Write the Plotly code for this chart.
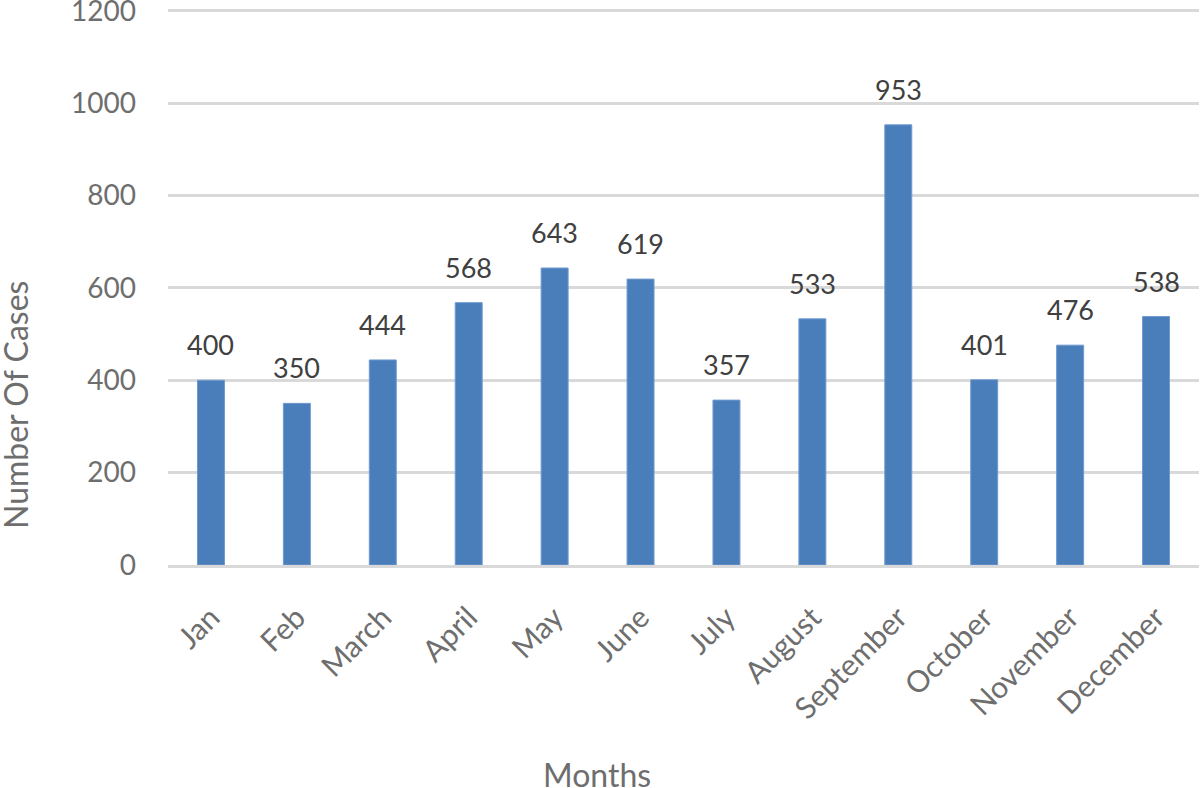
import plotly.graph_objects as go

months = ["Jan", "Feb", "March", "April", "May", "June", "July", "August",
          "September", "October", "November", "December"]
cases = [400, 350, 444, 568, 643, 619, 357, 533, 953, 401, 476, 538]
y_ticks = [0, 200, 400, 600, 800, 1000, 1200]

FONT = "Lato, 'Open Sans', sans-serif"
TXT = "#6e6e6e"

fig = go.Figure(go.Bar(
    x=months, y=cases,
    marker=dict(color="#4a7ebb", line=dict(color="#6f9ad0", width=1)),
    hoverinfo="x+y",
))

for m, v in zip(months, cases):
    fig.add_annotation(x=m, y=v, text=str(v), showarrow=False,
                       xanchor="center", yanchor="bottom", yshift=17,
                       font=dict(size=27, color="#404040"))

fig.update_layout(
    width=1200, height=788,
    margin=dict(l=168, r=1, t=8, b=223, autoexpand=False),
    paper_bgcolor="white", plot_bgcolor="white",
    bargap=0.686,
    showlegend=False,
    font=dict(family=FONT, color=TXT),
)
fig.update_yaxes(
    range=[0, 1206], tickvals=y_ticks, showgrid=True,
    gridcolor="#d9d9d9", gridwidth=3, zeroline=False,
    tickfont=dict(size=28, color=TXT), ticklabelstandoff=31,
    ticklabeloverflow="allow",
    showline=False, automargin=False,
)
fig.update_xaxes(
    tickangle=-45, tickfont=dict(size=30, color=TXT),
    showline=True, linecolor="#d9d9d9", linewidth=3, ticks="",
    automargin=False, ticklabelstandoff=20,
)
fig.add_annotation(text="Number Of Cases", xref="paper", yref="paper",
                   x=(15 - 168) / 1031, y=(565 - 405) / 557, textangle=-90,
                   showarrow=False, xanchor="center", yanchor="middle",
                   font=dict(size=32, color=TXT))
fig.add_annotation(text="Months", xref="paper", yref="paper",
                   x=(597 - 168) / 1031, y=-(774 - 565) / 557, showarrow=False,
                   xanchor="center", yanchor="middle",
                   font=dict(size=32, color=TXT))

fig.write_html("out.html",
               config={"displayModeBar": False},
               post_script="document.body.style.margin='0';"
                           "document.body.style.overflow='hidden';")
